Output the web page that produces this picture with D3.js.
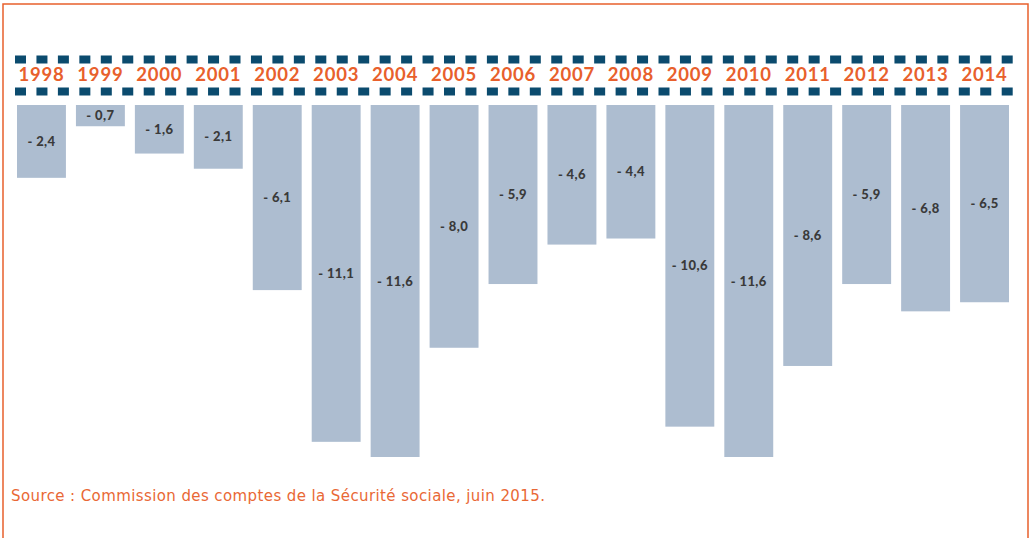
<!DOCTYPE html>
<html>
<head>
<meta charset="utf-8">
<script src="https://cdn.jsdelivr.net/npm/d3@7"></script>
<style>
  body { margin: 0; background: #fff; }
  svg { display: block; }
  .year { font-family: Lato, sans-serif; font-weight: 700; font-size: 18.5px; letter-spacing: 0.8px; fill: #e8602c; }
  .value { font-family: Lato, sans-serif; font-weight: 900; font-size: 13px; letter-spacing: 0.4px; fill: #3a3a3a; }
  .source { font-family: "DejaVu Sans", sans-serif; font-size: 15px; letter-spacing: 0.4px; fill: #e96835; }
</style>
</head>
<body>
<svg id="chart" width="1030" height="538"></svg>
<script>
const years = ["1998", "1999", "2000", "2001", "2002", "2003", "2004", "2005", "2006",
  "2007", "2008", "2009", "2010", "2011", "2012", "2013", "2014"];
const deficits = [-2.4, -0.7, -1.6, -2.1, -6.1, -11.1, -11.6, -8.0, -5.9,
  -4.6, -4.4, -10.6, -11.6, -8.6, -5.9, -6.8, -6.5];
const sourceText = "Source : Commission des comptes de la Sécurité sociale, juin 2015.";

const W = 1030, H = 538;
const svg = d3.select("#chart");

// orange frame, open at the bottom
svg.append("path")
  .attr("d", `M3,${H} V4 H1028 V${H}`)
  .attr("fill", "none")
  .attr("stroke", "#e8602c")
  .attr("stroke-width", 1.5);

const x = d3.scaleBand()
  .domain(years)
  .range([17, 1009])
  .paddingInner(0.17)
  .paddingOuter(0);

const y = d3.scaleLinear()
  .domain([0, -11.6])
  .range([105, 457]);

// dotted rails above and below the years
const dashStep = 21.45, dashW = 11;
[59.5, 91.5].forEach(cy => {
  svg.append("g")
    .selectAll("rect")
    .data(d3.range(47))
    .join("rect")
    .attr("x", i => 15 + i * dashStep)
    .attr("y", cy - 4)
    .attr("width", dashW)
    .attr("height", 8)
    .attr("fill", "#0b4b6e");
});

svg.append("g")
  .selectAll("text")
  .data(years)
  .join("text")
  .attr("class", "year")
  .attr("x", d => x(d) + x.bandwidth() / 2)
  .attr("y", 81)
  .attr("text-anchor", "middle")
  .text(d => d);

const data = years.map((yr, i) => ({ yr, v: deficits[i] }));

svg.append("g")
  .selectAll("rect")
  .data(data)
  .join("rect")
  .attr("x", d => x(d.yr))
  .attr("y", y(0))
  .attr("width", x.bandwidth())
  .attr("height", d => y(d.v) - y(0))
  .attr("fill", "#adbdd0");

const fmt = v => "- " + d3.format(".1f")(Math.abs(v)).replace(".", ",");

svg.append("g")
  .selectAll("text")
  .data(data)
  .join("text")
  .attr("class", "value")
  .attr("x", d => x(d.yr) + x.bandwidth() / 2)
  .attr("y", d => (y(0) + y(d.v)) / 2)
  .attr("dy", "0.35em")
  .attr("text-anchor", "middle")
  .text(d => fmt(d.v));

svg.append("text")
  .attr("class", "source")
  .attr("x", 11)
  .attr("y", 501)
  .text(sourceText);
</script>
</body>
</html>
